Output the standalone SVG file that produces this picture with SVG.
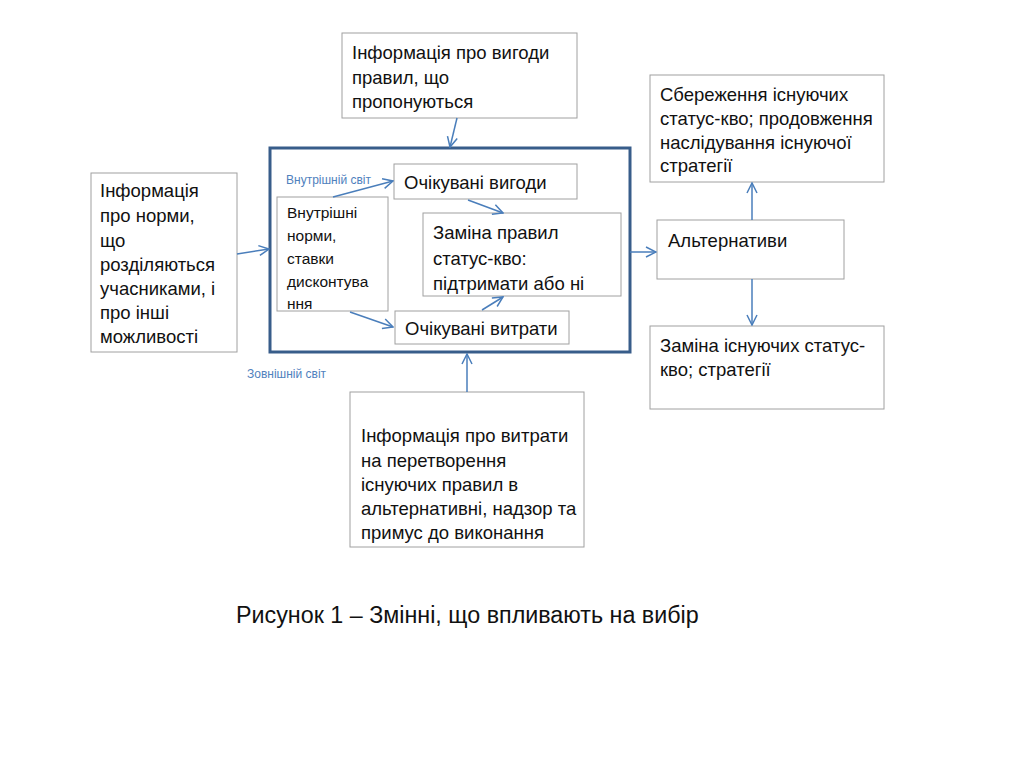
<svg xmlns="http://www.w3.org/2000/svg" width="1024" height="767" viewBox="0 0 1024 767">
<style>
.box{fill:#fff;stroke:#a0a0a0;stroke-width:1}
.t{font-family:"Liberation Sans",Arial,sans-serif;font-size:18.5px;fill:#111}
.ts{font-family:"Liberation Sans",Arial,sans-serif;font-size:15.5px;fill:#111}
.lbl{font-family:"Liberation Sans",Arial,sans-serif;font-size:12px;fill:#4f81bd}
.c{fill:none;stroke:#4a7ebb;stroke-width:1.5}
</style>
<defs>
<marker id="ah" viewBox="0 0 12 12" refX="11" refY="6" markerWidth="12" markerHeight="12" markerUnits="userSpaceOnUse" orient="auto">
<path d="M1,1 L11,6 L1,11" fill="none" stroke="#4a7ebb" stroke-width="1.5"/>
</marker>
</defs>
<rect width="1024" height="767" fill="#fff"/>
<g id="outer"><rect x="270" y="148" width="360" height="204" fill="none" stroke="#385d8a" stroke-width="3"/></g>
<g id="top-info"><rect class="box" x="342" y="33" width="235" height="85"/>
<text class="t" x="352" y="58.5">Інформація про вигоди</text>
<text class="t" x="352" y="83.5">правил, що</text>
<text class="t" x="352" y="108">пропонуються</text></g>
<g id="left-info"><rect class="box" x="91" y="173" width="146" height="179"/>
<text class="t" x="100" y="196.5">Інформація</text>
<text class="t" x="100" y="221.5">про норми,</text>
<text class="t" x="100" y="246.5">що</text>
<text class="t" x="100" y="270.5">розділяються</text>
<text class="t" x="100" y="294.5">учасниками, і</text>
<text class="t" x="100" y="318.5">про інші</text>
<text class="t" x="100" y="342.5">можливості</text></g>
<g id="inner-norms"><rect class="box" x="277" y="197" width="111" height="114"/>
<text class="ts" x="287" y="218">Внутрішні</text>
<text class="ts" x="287" y="241">норми,</text>
<text class="ts" x="287" y="264">ставки</text>
<text class="ts" x="287" y="287">дисконтува</text>
<text class="ts" x="287" y="309">ння</text></g>
<g id="exp-benefits"><rect class="box" x="394" y="164" width="183" height="35"/>
<text class="t" x="404" y="188.5">Очікувані вигоди</text></g>
<g id="change-rules"><rect class="box" x="423" y="213" width="198" height="83"/>
<text class="t" x="433" y="238.5">Заміна правил</text>
<text class="t" x="433" y="264.5">статус-кво:</text>
<text class="t" x="433" y="289.5">підтримати або ні</text></g>
<g id="exp-costs"><rect class="box" x="395" y="311" width="174" height="33"/>
<text class="t" x="405" y="334.5">Очікувані витрати</text></g>
<g id="labels">
<text class="lbl" x="286" y="184">Внутрішній світ</text>
<text class="lbl" x="247" y="378">Зовнішній світ</text></g>
<g id="alternatives"><rect class="box" x="657" y="220" width="187" height="59"/>
<text class="t" x="668" y="246.5">Альтернативи</text></g>
<g id="preserve"><rect class="box" x="650" y="75" width="234" height="107"/>
<text class="t" x="660" y="100.5">Сбереження існуючих</text>
<text class="t" x="660" y="124.5">статус-кво; продовження</text>
<text class="t" x="660" y="148.5">наслідування існуючої</text>
<text class="t" x="660" y="171.5">стратегії</text></g>
<g id="replace"><rect class="box" x="650" y="326" width="234" height="83"/>
<text class="t" x="660" y="351.5">Заміна існуючих статус-</text>
<text class="t" x="660" y="375.5">кво; стратегії</text></g>
<g id="bottom-info"><rect class="box" x="350" y="392" width="234" height="155"/>
<text class="t" x="361" y="441.5">Інформація про витрати</text>
<text class="t" x="361" y="466.5">на перетворення</text>
<text class="t" x="361" y="490.5">існуючих правил в</text>
<text class="t" x="361" y="514.5">альтернативні, надзор та</text>
<text class="t" x="361" y="538.5">примус до виконання</text></g>
<g id="caption"><text class="t" style="font-size:23.3px" x="236" y="623">Рисунок 1 – Змінні, що впливають на вибір</text></g>
<g id="connectors">
<path class="c" d="M457,118 L450,147" marker-end="url(#ah)"/>
<path class="c" d="M237,254 L269,249" marker-end="url(#ah)"/>
<path class="c" d="M467,392 L467,354" marker-end="url(#ah)"/>
<path class="c" d="M630,252 L656,252" marker-end="url(#ah)"/>
<path class="c" d="M752,220 L752,183" marker-end="url(#ah)"/>
<path class="c" d="M752,279 L752,325" marker-end="url(#ah)"/>
<path class="c" d="M333,197 L393,181" marker-end="url(#ah)"/>
<path class="c" d="M468,200 L503,213" marker-end="url(#ah)"/>
<path class="c" d="M482,310 L503,297" marker-end="url(#ah)"/>
<path class="c" d="M350,312 L393,327" marker-end="url(#ah)"/>
</g>
</svg>
